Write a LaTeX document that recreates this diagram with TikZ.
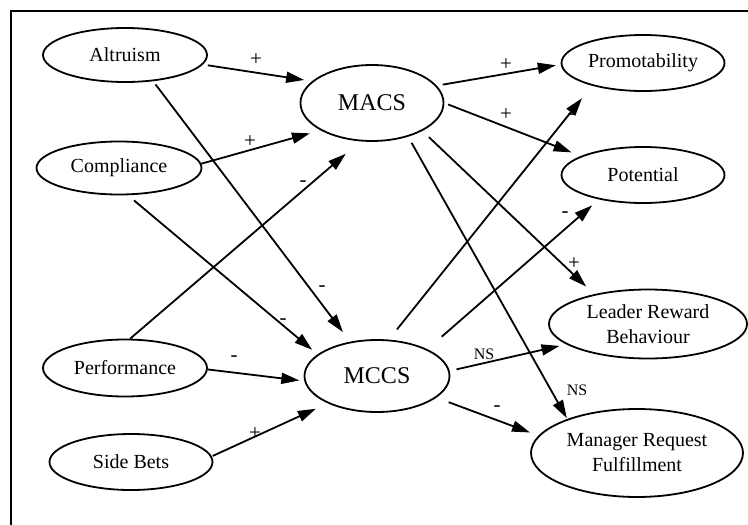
\documentclass[tikz,border=0pt]{standalone}
\usepackage{fontspec}
\setmainfont{Liberation Serif}
\usetikzlibrary{shapes.geometric,arrows.meta}
\begin{document}
\begin{tikzpicture}[x=1pt,y=-1pt,
  var/.style={ellipse,draw,line width=1.8pt,inner sep=0pt,
    font=\fontsize{20}{25}\selectfont,align=center},
  core/.style={var,font=\fontsize{24}{28}\selectfont},
  link/.style={line width=1.8pt,-{Triangle[length=18pt,width=11pt]}},
  sign/.style={font=\fontsize{21}{22}\selectfont,inner sep=0pt},
  ns/.style={font=\fontsize{16}{18}\selectfont,inner sep=0pt}]
\useasboundingbox (0,0) rectangle (748,525);

% frame
\draw[line width=1.8pt] (11,525) -- (11,11) -- (748,11);

% antecedents
\node[var,minimum width=164pt,minimum height=54pt] (alt)  at (125,55)  {Altruism};
\node[var,minimum width=165pt,minimum height=53pt] (comp) at (119,168) {Compliance};
\node[var,minimum width=164pt,minimum height=57pt] (perf) at (125,368) {Performance};
\node[var,minimum width=163pt,minimum height=56pt] (side) at (131,462) {Side Bets};

% commitment constructs
\node[core,minimum width=143pt,minimum height=76pt] (macs) at (372,103) {MACS};
\node[core,minimum width=145pt,minimum height=72pt] (mccs) at (377,376) {MCCS};

% outcomes
\node[var,minimum width=163pt,minimum height=56pt] (promo) at (643,63)  {Promotability};
\node[var,minimum width=163pt,minimum height=56pt] (pot)   at (643,175) {Potential};
\node[var,minimum width=198pt,minimum height=69pt] (lrb)   at (648,324) {Leader Reward\\Behaviour};
\node[var,minimum width=212pt,minimum height=88pt] (mrf)   at (637,453) {Manager Request\\Fulfillment};

% paths into MACS / MCCS
\draw[link,shorten <=5pt,shorten >=8pt]  (alt.-7)   -- (macs.160);
\draw[link,shorten >=11pt]               (comp.3)   -- (macs.208);
\draw[link,shorten <=4pt,shorten >=12pt] (alt.-43)  -- (mccs.128);
\draw[link,shorten <=8pt,shorten >=7pt]  (comp.-72) -- (mccs.160);
\draw[link,shorten >=19pt]               (perf.80)  -- (macs.253);
\draw[link,shorten >=5pt]                (perf.-1)  -- (mccs.184);
\draw[link,shorten <=1pt,shorten >=13pt] (side.4)   -- (mccs.209);

% paths out of MACS / MCCS
\draw[link,shorten <=6pt,shorten >=5pt]   (macs.15)  -- (promo.181);
\draw[link,shorten <=4pt,shorten >=10pt]  (macs.0)   -- (pot.163);
\draw[link,shorten <=9pt,shorten >=11pt]  (macs.-29) -- (lrb.151);
\draw[link,shorten <=7pt,shorten >=1pt]   (macs.-43) -- (mrf.154);
\draw[link,shorten <=13pt,shorten >=16pt] (mccs.72)  -- (promo.204);
\draw[link,shorten <=19pt,shorten >=9pt]  (mccs.28)  -- (pot.209);
\draw[link,shorten <=7pt,shorten >=7pt]   (mccs.4)   -- (lrb.194);
\draw[link,shorten <=13pt,shorten >=9pt]  (mccs.-20) -- (mrf.170);

% signs
\node[sign] (s1)  at (256,60)  {+};
\node[sign] (s2)  at (250,142) {+};
\node[sign] (s3)  at (322,289) {-};
\node[sign] (s4)  at (283,322) {-};
\node[sign] (s5)  at (303,184) {-};
\node[sign] (s6)  at (234,359) {-};
\node[sign] (s7)  at (255,434) {+};
\node[sign] (s8)  at (506,65)  {+};
\node[sign] (s9)  at (506,115) {+};
\node[sign] (s10) at (574,264) {+};
\node[ns]   (s11) at (577,390) {NS};
\node[sign] (s12) at (571,117) {-};
\node[sign] (s13) at (565,215) {-};
\node[ns]   (s14) at (484,354) {NS};
\node[sign] (s15) at (497,409) {-};
\end{tikzpicture}
\end{document}
